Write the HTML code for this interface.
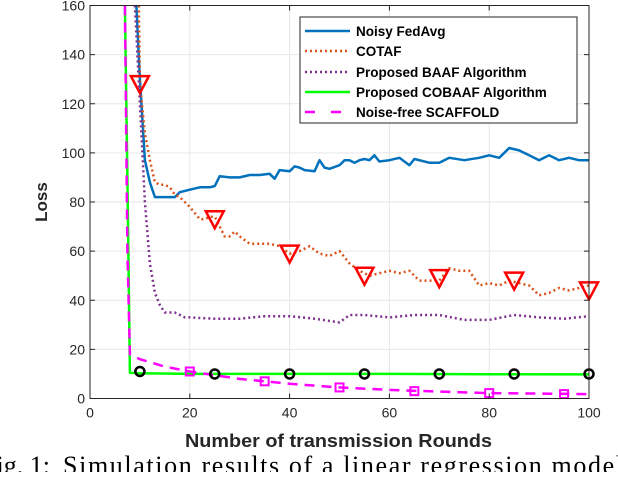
<!DOCTYPE html>
<html><head><meta charset="utf-8"><style>
body{margin:0;background:#fff;width:618px;height:472px;overflow:hidden}
svg{font-family:"Liberation Sans",sans-serif}
</style></head><body>
<svg id="c" width="618" height="472"></svg>
<script>
const xTicks=[0,20,40,60,80,100];
const yTicks=[0,20,40,60,80,100,120,140,160];
const fedX=[9.3,10,11,12,13,14,16,17,18,20,22,24,25,26,28,30,32,34,36,37,38,40,41,42,43,45,46,47,48,50,51,52,53,54,55,56,57,58,60,62,64,65,68,70,72,75,78,80,82,84,86,88,90,92,94,96,98,100];
const fedY=[160,130,97,88,82,82,82,82,84,85,86,86,86.5,90.5,90,90,91,91,91.5,89.5,93,92.5,94.5,94,93,92.5,97,94,93.5,95,97,97,96,97,97.5,97,99,96.5,97,98,95,97.5,96,96,98,97,98,99,98,102,101,99,97,99,97,98,97,97];
const cotX=[9.8,10,11,12,13,14,15,16,17,18,20,22,23,24,25,26,27,28,29,30,32,34,36,38,40,42,44,46,48,50,52,54,56,58,60,62,64,66,68,70,72,74,76,78,80,82,84,86,88,90,92,94,96,98,100];
const cotY=[160,128,108,97,88,87,87,86,83,82,78,73,73,74,74,70,66,66,68,66,63,63,63,62,59,60,62,59,58,60,55,52,50,51,52,51,52,48,48,48,53,52,52,46,47,46,48,47,46,42,43,45,44,45,46];
const cotMX=[10,25,40,55,70,85,100];
const cotMY=[128,73,59,50,49,48,44];
const baX=[9,10,11,12,13,14,15,17,19,20,25,30,35,40,45,50,52,55,60,65,70,75,80,85,90,95,100];
const baY=[160,120,80,55,43,38,35,35,33,33,32.5,32.5,33.5,33.5,32.5,31,34,34,33,34,34,32,32,34,33,32.5,33.5];
const coX=[7,7.5,8,10,20,40,60,80,100];
const coY=[160,90,10.5,10.3,10,10,10,9.9,9.8];
const coMX=[10,25,40,55,70,85,100];
const coMY=[11,10,10,10,10,10,10];
const scX=[7,7.5,8,10,15,20,25,30,35,40,50,60,70,80,90,100];
const scY=[160,60,18,16,13,11,9.5,8,7,6,4.5,3.5,2.8,2.2,2,1.8];
const scMX=[20,35,50,65,80,95];
const scMY=[11,7,4.5,3,2.2,1.8];

const L=90,R=589,T=5.5,B=398.5;
const sx=v=>L+(v-0)/100*(R-L);
const sy=v=>B-(v/160)*(B-T);
const svg=document.getElementById('c');
const NS='http://www.w3.org/2000/svg';
function mk(t,a,p){const e=document.createElementNS(NS,t);for(const k in a)e.setAttribute(k,a[k]);(p||svg).appendChild(e);return e;}
const clip=mk('clipPath',{id:'pc'});mk('rect',{x:L,y:T,width:R-L,height:B-T},clip);
xTicks.forEach(v=>{const g=mk('line',{x1:sx(v),x2:sx(v),y1:T,y2:B,stroke:'#e6e6e6','stroke-width':1});
});
yTicks.forEach(v=>{const g=mk('line',{x1:L,x2:R,y1:sy(v),y2:sy(v),stroke:'#e6e6e6','stroke-width':1});
});
const plot=mk('g',{'clip-path':'url(#pc)'});

function line(xs,ys,style,name){const d=xs.map((x,i)=>(i?'L':'M')+sx(x).toFixed(1)+','+sy(ys[i]).toFixed(1)).join('');
const p=mk('path',Object.assign({d:d,fill:'none','stroke-linejoin':'round'},style),plot);
}
line(fedX,fedY,{stroke:'#0072bd','stroke-width':2.5},'noisy-fedavg-line');
line(cotX,cotY,{stroke:'#d95319','stroke-width':2.5,'stroke-dasharray':'2 3'},'cotaf-line');
line(baX,baY,{stroke:'#7e2f8e','stroke-width':2.5,'stroke-dasharray':'2 3'},'baaf-line');
line(coX,coY,{stroke:'#00ff00','stroke-width':2.5},'cobaaf-line');
line(scX,scY,{stroke:'#ff00ff','stroke-width':2.5,'stroke-dasharray':'10 7'},'scaffold-line');
cotMX.forEach((x,i)=>{const cx=sx(x),cy=sy(cotMY[i]);
const m=mk('polygon',{points:`${cx-9},${cy-8} ${cx+9},${cy-8} ${cx},${cy+9}`,fill:'none',stroke:'#ff0000','stroke-width':2.5});
});
coMX.forEach((x,i)=>{const m=mk('circle',{cx:sx(x),cy:sy(coMY[i]),r:4.5,fill:'none',stroke:'#000','stroke-width':2.5});
});
scMX.forEach((x,i)=>{const m=mk('rect',{x:sx(x)-4,y:sy(scMY[i])-4,width:8,height:8,fill:'none',stroke:'#ff00ff','stroke-width':2});
});
const bx=mk('rect',{x:L,y:T,width:R-L,height:B-T,fill:'none',stroke:'#262626','stroke-width':1});

xTicks.forEach(v=>{mk('line',{x1:sx(v),x2:sx(v),y1:B,y2:B-5,stroke:'#262626'});mk('line',{x1:sx(v),x2:sx(v),y1:T,y2:T+5,stroke:'#262626'});
const t=mk('text',{x:sx(v),y:B+19,'text-anchor':'middle','font-size':14,fill:'#262626'});t.textContent=v;
});
yTicks.forEach(v=>{mk('line',{x1:L,x2:L+5,y1:sy(v),y2:sy(v),stroke:'#262626'});mk('line',{x1:R,x2:R-5,y1:sy(v),y2:sy(v),stroke:'#262626'});
const t=mk('text',{x:L-5,y:sy(v)+5,'text-anchor':'end','font-size':14,fill:'#262626'});t.textContent=v;
});
</script>
<svg width="618" height="472" style="position:absolute;left:0;top:0">
<text x="185" y="447" textLength="307" lengthAdjust="spacingAndGlyphs" font-size="18" font-weight="bold" fill="#262626">Number of transmission Rounds</text>
<text transform="translate(47,202) rotate(-90)" text-anchor="middle" font-size="17" font-weight="bold" fill="#262626">Loss</text>
<g font-size="13.5" font-weight="bold" fill="#000">
<rect x="300" y="17" width="277" height="106" fill="#fff" stroke="#262626"/>
<line x1="305" x2="350" y1="31" y2="31" stroke="#0072bd" stroke-width="2.5"/><text x="356" y="36">Noisy FedAvg</text>
<line x1="305" x2="350" y1="51" y2="51" stroke="#d95319" stroke-width="2.5" stroke-dasharray="2 3"/><text x="356" y="56">COTAF</text>
<line x1="305" x2="350" y1="72" y2="72" stroke="#7e2f8e" stroke-width="2.5" stroke-dasharray="2 3"/><text x="356" y="77">Proposed BAAF Algorithm</text>
<line x1="305" x2="350" y1="92" y2="92" stroke="#00ff00" stroke-width="2.5"/><text x="356" y="97">Proposed COBAAF Algorithm</text>
<line x1="305" x2="350" y1="112" y2="112" stroke="#ff00ff" stroke-width="2.5" stroke-dasharray="10 16"/><text x="356" y="117">Noise-free SCAFFOLD</text>
</g>
<g font-family="Liberation Serif,serif" font-size="26" fill="#000">
<text x="50" y="474" text-anchor="end">Fig. 1:</text>
<text x="63" y="474" textLength="560" lengthAdjust="spacing">Simulation results of a linear regression model</text>
</g>
</svg>
</body></html>
